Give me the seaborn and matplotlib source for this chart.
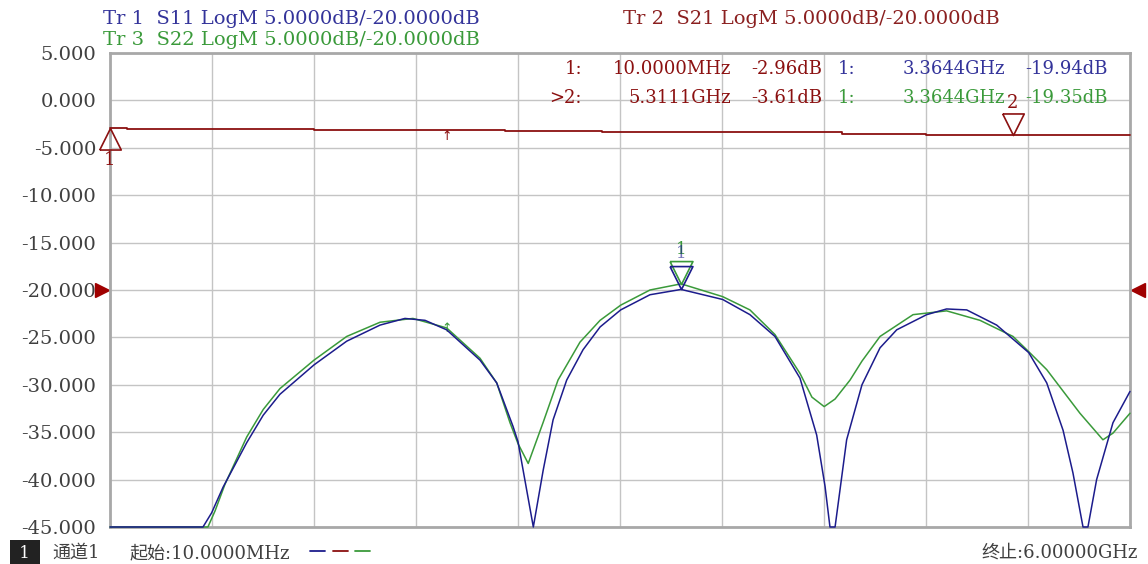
import seaborn as sns
import matplotlib.pyplot as plt
import matplotlib.transforms as mtransforms

f_s11 = [0.01, 0.556, 0.607, 0.674, 0.813, 0.910, 1.008, 1.208, 1.400, 1.596,
         1.742, 1.860, 1.987, 2.183, 2.281, 2.377, 2.406, 2.496, 2.554, 2.612,
         2.692, 2.788, 2.888, 3.009, 3.181, 3.364, 3.608, 3.768, 3.915, 4.062,
         4.160, 4.209, 4.238, 4.268, 4.336, 4.426, 4.532, 4.630, 4.806, 4.923,
         5.041, 5.217, 5.405, 5.511, 5.607, 5.665, 5.724, 5.753, 5.804, 5.900,
         6.000]
s11 = [-45.0, -45.0, -43.5, -40.8, -36.1, -33.2, -31.0, -27.9, -25.4, -23.7,
       -23.0, -23.2, -24.2, -27.4, -29.8, -34.4, -36.0, -45.0, -39.0, -33.7,
       -29.5, -26.3, -23.9, -22.1, -20.5, -19.94, -21.0, -22.6, -24.9, -29.3,
       -35.3, -40.7, -45.0, -45.0, -35.8, -30.0, -26.1, -24.2, -22.6, -22.0,
       -22.1, -23.7, -26.6, -29.8, -34.8, -39.3, -45.0, -45.0, -40.0, -34.0,
       -30.7]

f_s22 = [0.01, 0.585, 0.627, 0.685, 0.813, 0.910, 1.008, 1.208, 1.400, 1.596,
         1.789, 1.987, 2.183, 2.281, 2.359, 2.406, 2.466, 2.553, 2.641, 2.770,
         2.888, 3.009, 3.181, 3.364, 3.608, 3.768, 3.915, 4.062, 4.132, 4.204,
         4.268, 4.356, 4.426, 4.532, 4.726, 4.923, 5.119, 5.313, 5.405, 5.511,
         5.706, 5.841, 5.900, 6.000]
s22 = [-45.0, -45.0, -43.3, -40.5, -35.5, -32.6, -30.4, -27.4, -24.9, -23.4,
       -23.0, -24.0, -27.2, -29.8, -34.0, -36.2, -38.3, -34.0, -29.5, -25.5,
       -23.2, -21.6, -20.0, -19.35, -20.7, -22.1, -24.7, -28.8, -31.3, -32.3,
       -31.5, -29.5, -27.5, -24.9, -22.6, -22.2, -23.2, -24.9, -26.5, -28.4,
       -33.0, -35.8, -35.1, -33.0]

f_s21 = [0.01, 0.108, 1.208, 2.33, 2.90, 4.31, 4.80, 6.00]
s21 = [-2.96, -3.05, -3.15, -3.25, -3.35, -3.50, -3.61, -3.61]

y_ticks = [5, 0, -5, -10, -15, -20, -25, -30, -35, -40, -45]

# marcadores: (frecuencia, valor)
mk_s21 = [(0.01, -2.96), (5.3111, -3.61)]
mk_s11 = (3.3644, -19.94)
mk_s22 = (3.3644, -19.35)

c_s11 = "#1c1c8c"
c_s21 = "#8b1010"
c_s22 = "#3a9a3a"
c_txt = "#404040"

sns.set_style("white")
plt.rcParams["font.family"] = ["DejaVu Serif", "Noto Sans CJK SC"]
plt.rcParams["axes.unicode_minus"] = False

W, H = 1148, 564
fig = plt.figure(figsize=(W / 100, H / 100), dpi=100)
ax = fig.add_axes([110 / W, 1 - 527 / H, 1020 / W, 474 / H])


def fx(x):
    return x / W


def fy(y):
    return 1 - y / H


# trazas
sns.lineplot(x=f_s21, y=s21, ax=ax, color=c_s21, lw=1.3, estimator=None,
             drawstyle="steps-post", zorder=3, clip_on=False)
sns.lineplot(x=f_s22, y=s22, ax=ax, color=c_s22, lw=1.1, estimator=None,
             zorder=3, clip_on=False)
sns.lineplot(x=f_s11, y=s11, ax=ax, color=c_s11, lw=1.1, estimator=None,
             zorder=4, clip_on=False)

ax.set_xlim(0.01, 6.0)
ax.set_ylim(-45, 5)
ax.set_xticks([0.01 + i * 0.599 for i in range(11)])
ax.set_xticklabels([])
ax.set_yticks(y_ticks)
ax.set_yticklabels([f"{v:.3f}" for v in y_ticks])
ax.tick_params(length=0, labelsize=14, labelcolor=c_txt, pad=10)
ax.grid(True, color="#c4c4c4", lw=1.0)
for s in ax.spines.values():
    s.set_color("#a8a8a8")
    s.set_linewidth(2)

# marcadores triangulares con el vertice en el punto
tri_down = [(-0.5, 1), (0.5, 1), (0, 0), (-0.5, 1)]
tri_up = [(-0.5, -1), (0.5, -1), (0, 0), (-0.5, -1)]
ax.plot([mk_s21[0][0]], [mk_s21[0][1]], marker=tri_up, ms=31, mfc="none",
        mec=c_s21, mew=1.2, clip_on=False, zorder=5)
ax.plot([mk_s21[1][0]], [mk_s21[1][1]], marker=tri_down, ms=31, mfc="none",
        mec=c_s21, mew=1.2, clip_on=False, zorder=5)
ax.plot([mk_s22[0]], [mk_s22[1]], marker=tri_down, ms=33, mfc="none",
        mec=c_s22, mew=1.2, zorder=5)
ax.plot([mk_s11[0]], [mk_s11[1]], marker=tri_down, ms=33, mfc="none",
        mec=c_s11, mew=1.2, zorder=5)

fig.text(fx(110), fy(160), "1", color=c_s21, fontsize=13, ha="center", va="center")
fig.text(fx(1013), fy(103), "2", color=c_s21, fontsize=13, ha="center", va="center")
fig.text(fx(681), fy(250), "1", color=c_s22, fontsize=12, ha="center", va="center")
fig.text(fx(681), fy(254), "1", color=c_s11, fontsize=12, ha="center", va="center",
         alpha=0.6)

# flechitas de marcador activo
ax.text(1.989, -3.1, "↑", color=c_s21, fontsize=9, ha="center", va="top",
        family="DejaVu Sans")
ax.text(1.989, -23.4, "↑", color=c_s22, fontsize=9, ha="center", va="top",
        family="DejaVu Sans")

# nivel de referencia
tr = mtransforms.blended_transform_factory(ax.transAxes, ax.transData)
ax.plot([-0.0075], [-20], marker=">", ms=10, color="#a00000", transform=tr,
        clip_on=False)
ax.plot([1.0075], [-20], marker="<", ms=10, color="#a00000", transform=tr,
        clip_on=False)

# cabecera
fig.text(fx(103), fy(19), "Tr 1  S11 LogM 5.0000dB/-20.0000dB", color="#33339a",
         fontsize=14, va="center")
fig.text(fx(103), fy(40), "Tr 3  S22 LogM 5.0000dB/-20.0000dB", color=c_s22,
         fontsize=14, va="center")
fig.text(fx(623), fy(19), "Tr 2  S21 LogM 5.0000dB/-20.0000dB", color="#8b2020",
         fontsize=14, va="center")

# tabla de marcadores
rows = [
    (69, "1:", "10.0000MHz", "-2.96dB", c_s21, "3.3644GHz", "-19.94dB", "#33339a"),
    (98, ">2:", "5.3111GHz", "-3.61dB", c_s21, "3.3644GHz", "-19.35dB", c_s22),
]
for y, lab, fr, val, c1, fr2, val2, c2 in rows:
    fig.text(fx(582), fy(y), lab, color=c1, fontsize=13, ha="right", va="center")
    fig.text(fx(731), fy(y), fr, color=c1, fontsize=13, ha="right", va="center")
    fig.text(fx(822), fy(y), val, color=c1, fontsize=13, ha="right", va="center")
    fig.text(fx(838), fy(y), "1:", color=c2, fontsize=13, ha="left", va="center")
    fig.text(fx(1005), fy(y), fr2, color=c2, fontsize=13, ha="right", va="center")
    fig.text(fx(1108), fy(y), val2, color=c2, fontsize=13, ha="right", va="center")

# barra inferior
fig.text(fx(25), fy(553), " 1 ", color="white", fontsize=12, ha="center", va="center",
         bbox=dict(boxstyle="square,pad=0.25", fc="#222222", ec="none"))
fig.text(fx(52), fy(553), "通道1", color=c_txt, fontsize=13, va="center")
fig.text(fx(130), fy(553), "起始:10.0000MHz", color=c_txt, fontsize=13, va="center")
for x0, c in [(310, c_s11), (333, c_s21), (355, c_s22)]:
    fig.add_artist(plt.Line2D([fx(x0), fx(x0 + 15)], [fy(551), fy(551)], color=c, lw=1.3))
fig.text(fx(1138), fy(553), "终止:6.00000GHz", color=c_txt, fontsize=13, ha="right",
         va="center")

fig.savefig("out.png", dpi=100)
